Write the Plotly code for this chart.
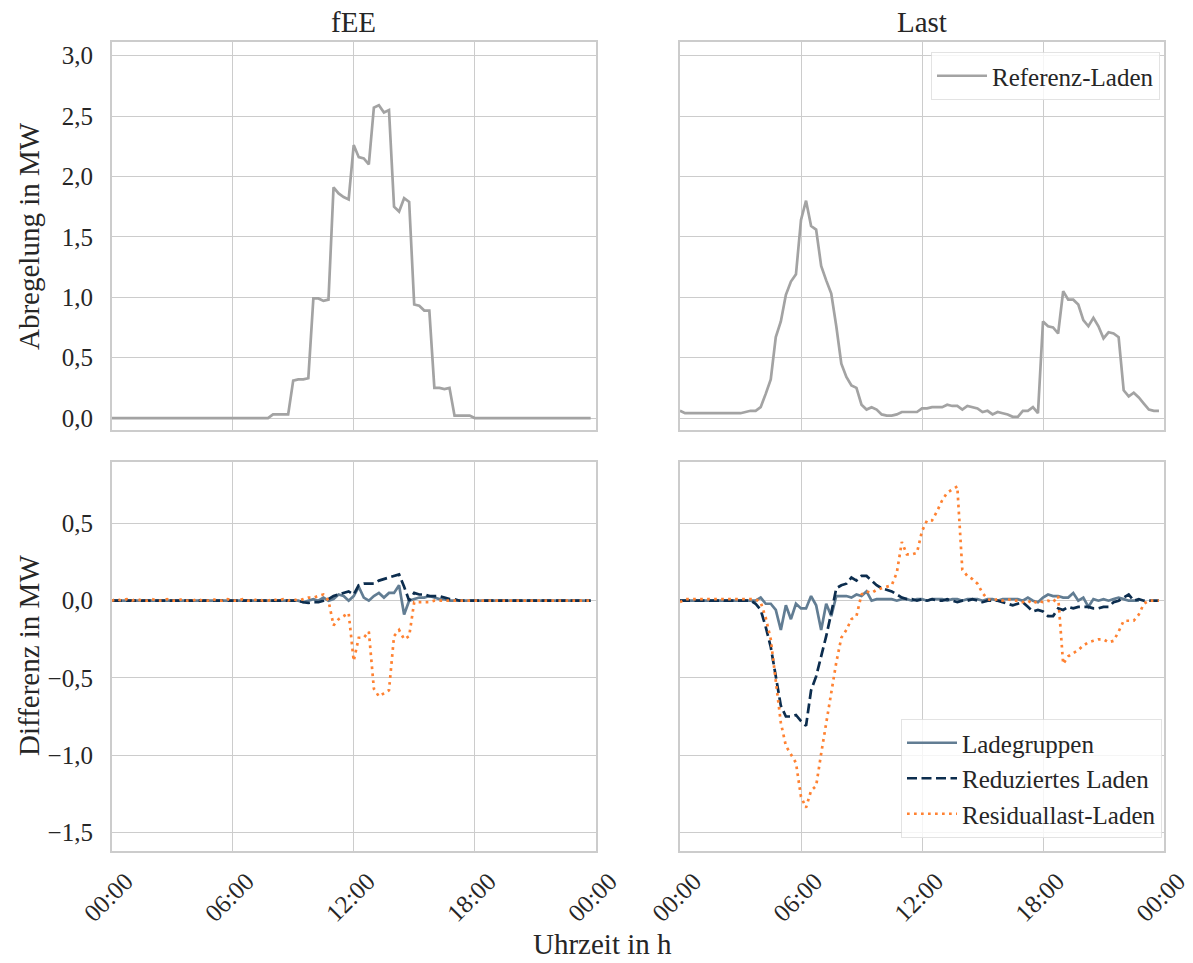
import pandas as pd
import plotly.graph_objects as go
from plotly.subplots import make_subplots

W, H = 1193, 963

# 15-minute time steps over one day
times = pd.date_range("2022-06-01 00:00", periods=96, freq="15min")
day_end = times[0] + pd.Timedelta(hours=24)

# Abregelung (curtailment) of the reference charging strategy, MW
ref_fee = ([0.0] * 32
           + [0.03, 0.03, 0.03, 0.03, 0.31, 0.32, 0.32, 0.33,
              0.99, 0.99, 0.97, 0.98, 1.91, 1.86, 1.83, 1.81,
              2.26, 2.16, 2.15, 2.10, 2.57, 2.59, 2.53, 2.55,
              1.75, 1.71, 1.82, 1.79, 0.94, 0.93, 0.89, 0.89,
              0.25, 0.25, 0.24, 0.25, 0.02, 0.02, 0.02, 0.02]
           + [0.0] * 24)

ref_last = [0.06, 0.04, 0.04, 0.04, 0.04, 0.04, 0.04, 0.04, 0.04, 0.04, 0.04, 0.04,
            0.04, 0.05, 0.06, 0.06, 0.09, 0.20, 0.32, 0.67, 0.80, 1.02, 1.13, 1.19,
            1.64, 1.80, 1.59, 1.56, 1.26, 1.14, 1.03, 0.76, 0.45, 0.34, 0.27, 0.25,
            0.11, 0.07, 0.09, 0.07, 0.03, 0.02, 0.02, 0.03, 0.05, 0.05, 0.05, 0.05,
            0.08, 0.08, 0.09, 0.09, 0.09, 0.11, 0.10, 0.10, 0.07, 0.10, 0.09, 0.08,
            0.05, 0.06, 0.03, 0.05, 0.04, 0.03, 0.01, 0.01, 0.06, 0.06, 0.09, 0.04,
            0.80, 0.76, 0.75, 0.70, 1.05, 0.98, 0.98, 0.94, 0.81, 0.76, 0.83, 0.76,
            0.66, 0.71, 0.70, 0.67, 0.23, 0.18, 0.21, 0.17, 0.12, 0.07, 0.06, 0.06]

# Differences to the reference, MW -- scenario fEE
lade_fee = ([0.0] * 38
            + [-0.01, 0.0, 0.01, 0.0, 0.02, 0.0, 0.01, 0.04, 0.03, 0.0,
               0.03, 0.09, 0.02, 0.0, 0.03, 0.05, 0.02, 0.05, 0.05, 0.10,
               -0.09, 0.0, 0.01, 0.02, 0.02, 0.03, 0.02, 0.01, 0.01, 0.0]
            + [0.0] * 28)

red_fee = ([0.0] * 38
           + [-0.01, -0.015, -0.01, -0.01, 0.0, 0.01, 0.03, 0.04, 0.05, 0.06,
              0.04, 0.10, 0.11, 0.11, 0.11, 0.13, 0.14, 0.15, 0.16, 0.17,
              0.09, 0.0, 0.05, 0.04, 0.04, 0.03, 0.03, 0.03, 0.02, 0.01,
              0.01, 0.0]
           + [0.0] * 26)

res_fee = ([0.0, 0.01, 0.0, 0.01, 0.0, 0.01, 0.0, 0.0, 0.01, 0.0, 0.0, 0.01,
            0.0, 0.0, 0.01, 0.0, 0.0, 0.01, 0.0, 0.0, 0.01, 0.0, 0.0, 0.01,
            0.0, 0.0, 0.01, 0.0, 0.0, 0.01, 0.0, 0.0, 0.01, 0.0, 0.01, 0.0,
            0.01, 0.0]
           + [0.01, 0.02, 0.02, 0.03, 0.04, 0.0, -0.16, -0.12, -0.10, -0.08,
              -0.39, -0.24, -0.24, -0.20, -0.57, -0.62, -0.60, -0.58, -0.23, -0.19,
              -0.25, -0.23, -0.01, -0.01, -0.01, -0.01]
           + [0.0] * 32)

# Differences to the reference, MW -- scenario Last
lade_last = ([0.0] * 16
             + [0.02, -0.02, -0.02, -0.06, -0.19, -0.03, -0.12, -0.02, -0.05, -0.05,
                0.03, -0.03, -0.19, -0.02, -0.10, 0.03, 0.03, 0.03, 0.02, 0.04,
                0.03, 0.06, 0.0, 0.01, 0.01, 0.01, 0.01, 0.0, 0.01, 0.01,
                0.0, 0.01, 0.01, 0.0, 0.01, 0.01, 0.01, 0.0, 0.01, 0.01,
                0.0, 0.01, 0.01, 0.01, 0.0, 0.01, 0.01, 0.0, 0.01, 0.01,
                0.01, 0.01, 0.0, 0.02, 0.0, -0.01, 0.02, 0.04, 0.03, 0.03,
                0.02, 0.02, 0.05, 0.0, 0.02, -0.04, 0.01, 0.0, 0.01, 0.0,
                0.01, 0.02, 0.01, 0.0, 0.0, 0.0])

red_last = ([0.0] * 15
            + [-0.02, -0.06, -0.17, -0.30, -0.49, -0.68, -0.75, -0.75, -0.74, -0.78,
               -0.81, -0.58, -0.49, -0.36, -0.23, -0.08, 0.08, 0.10, 0.11, 0.15,
               0.13, 0.16, 0.16, 0.13, 0.10, 0.08, 0.07, 0.06, 0.04, 0.02,
               0.01, 0.01, 0.0, 0.01, 0.0, 0.01, 0.0, 0.0, 0.01, 0.0,
               -0.01, 0.0, 0.0, 0.01, 0.0, -0.01, 0.0, 0.0, 0.0, -0.01,
               -0.02, -0.03, -0.02, -0.01, -0.04, -0.07, -0.06, -0.07, -0.10, -0.10,
               -0.05, -0.06, -0.04, -0.05, -0.04, -0.04, -0.04, -0.05, -0.05, -0.04,
               -0.04, -0.01, 0.0, 0.02, 0.04, 0.0, 0.01, 0.0, 0.0, 0.0, 0.0])

res_last = ([-0.01] + [0.01] * 15
            + [-0.01, -0.11, -0.25, -0.53, -0.79, -0.94, -1.00, -1.05, -1.27, -1.34,
               -1.23, -1.20, -0.99, -0.79, -0.62, -0.40, -0.24, -0.19, -0.12, -0.10,
               0.04, 0.06, 0.05, 0.07, 0.08, 0.09, 0.10, 0.18, 0.38, 0.30,
               0.30, 0.31, 0.45, 0.52, 0.52, 0.58, 0.65, 0.70, 0.72, 0.74,
               0.20, 0.16, 0.14, 0.11, 0.05, 0.01, 0.0, 0.01, 0.0, 0.01,
               0.0, 0.0, -0.01, 0.0, -0.02, 0.0, -0.01, 0.0, -0.01, 0.03,
               -0.41, -0.36, -0.34, -0.32, -0.29, -0.27, -0.26, -0.25, -0.25, -0.27,
               -0.26, -0.20, -0.13, -0.13, -0.13, -0.09, -0.02, 0.0, 0.0, 0.0])

panel_titles = ["fEE", "Last"]
ref_name = "Referenz-Laden"
diff_names = ["Ladegruppen", "Reduziertes Laden", "Residuallast-Laden"]
xtick_labels = ["00:00", "06:00", "12:00", "18:00", "00:00"]
ytick_top_vals = [0.0, 0.5, 1.0, 1.5, 2.0, 2.5, 3.0]
ytick_top_text = ["0,0", "0,5", "1,0", "1,5", "2,0", "2,5", "3,0"]
ytick_bot_vals = [-1.5, -1.0, -0.5, 0.0, 0.5]
ytick_bot_text = ["\u22121,5", "\u22121,0", "\u22120,5", "0,0", "0,5"]

FONT = "Liberation Serif"
TXT = "#262626"
GRID = "#cccccc"
C_REF = "#a3a3a3"
C_LADE = "#627d93"
C_RED = "#0c2d4e"
C_RES = "#ff8232"
LW = 2.7

fig = make_subplots(rows=2, cols=2)


def px_x(a, b):
    return [a / W, b / W]


def px_y(top, bottom):
    return [1 - bottom / H, 1 - top / H]


# Top row: reference curtailment
for col, ref in ((1, ref_fee), (2, ref_last)):
    fig.add_trace(go.Scatter(x=times, y=ref, mode="lines", name=ref_name,
                             line=dict(color=C_REF, width=LW),
                             showlegend=(col == 2), legend="legend"),
                  row=1, col=col)

# Bottom row: differences of the charging strategies
styles = [dict(color=C_LADE, width=LW),
          dict(color=C_RED, width=LW, dash="10px,4.5px"),
          dict(color=C_RES, width=LW, dash="2.7px,4.3px")]
for col, series in ((1, (lade_fee, red_fee, res_fee)), (2, (lade_last, red_last, res_last))):
    for name, vals, st in zip(diff_names, series, styles):
        fig.add_trace(go.Scatter(x=times, y=vals, mode="lines", name=name,
                                 line=st, showlegend=(col == 2), legend="legend2"),
                      row=2, col=col)

x_dom = {1: px_x(111.7, 595.7), 2: px_x(680, 1164)}
y_dom = {1: px_y(42.3, 430), 2: px_y(462.3, 851)}

axis_common = dict(showgrid=True, gridcolor=GRID, gridwidth=1.3,
                   showline=True, linecolor=GRID, linewidth=1.5, mirror=True,
                   zeroline=False, ticks="", automargin=False,
                   ticklabeloverflow="allow",
                   tickfont=dict(family=FONT, size=25, color=TXT))

tick_dates = pd.date_range(times[0], periods=5, freq="6h")
for r in (1, 2):
    for c in (1, 2):
        fig.update_xaxes(row=r, col=c, domain=x_dom[c], range=[times[0], day_end],
                         tickvals=tick_dates, ticktext=xtick_labels,
                         showticklabels=(r == 2), tickangle=-45,
                         ticklabelshift=14, ticklabelstandoff=4, **axis_common)
        if r == 1:
            fig.update_yaxes(row=r, col=c, domain=y_dom[r], range=[-0.099, 3.111],
                             tickvals=ytick_top_vals, ticktext=ytick_top_text,
                             showticklabels=(c == 1), ticklabelstandoff=12,
                             **axis_common)
        else:
            fig.update_yaxes(row=r, col=c, domain=y_dom[r], range=[-1.621, 0.896],
                             tickvals=ytick_bot_vals, ticktext=ytick_bot_text,
                             showticklabels=(c == 1), ticklabelstandoff=12,
                             **axis_common)

annotations = []
for c, t in zip((1, 2), panel_titles):
    xc = (x_dom[c][0] + x_dom[c][1]) / 2
    annotations.append(dict(text=t, x=xc, y=1 - 22 / H, xref="paper", yref="paper",
                            showarrow=False, font=dict(family=FONT, size=29, color=TXT),
                            xanchor="center", yanchor="middle"))
annotations.append(dict(text="Abregelung in MW", x=29 / W, y=1 - 236 / H,
                        xref="paper", yref="paper", textangle=-90, showarrow=False,
                        font=dict(family=FONT, size=29, color=TXT),
                        xanchor="center", yanchor="middle"))
annotations.append(dict(text="Differenz in MW", x=29 / W, y=1 - 656 / H,
                        xref="paper", yref="paper", textangle=-90, showarrow=False,
                        font=dict(family=FONT, size=29, color=TXT),
                        xanchor="center", yanchor="middle"))
annotations.append(dict(text="Uhrzeit in h", x=603 / W, y=1 - 944 / H,
                        xref="paper", yref="paper", showarrow=False,
                        font=dict(family=FONT, size=29, color=TXT),
                        xanchor="center", yanchor="middle"))

legend_common = dict(font=dict(family=FONT, size=25, color=TXT),
                     bgcolor="rgba(255,255,255,0.8)", bordercolor="rgba(220,220,220,0.8)",
                     borderwidth=1, itemwidth=50, xref="paper", yref="paper",
                     xanchor="right")

fig.update_layout(
    width=W, height=H,
    margin=dict(l=0, r=0, t=0, b=0, autoexpand=False),
    paper_bgcolor="white", plot_bgcolor="white",
    font=dict(family=FONT, color=TXT),
    annotations=annotations,
    legend=dict(x=1160 / W, y=1 - 52 / H, yanchor="top", **legend_common),
    legend2=dict(x=1162 / W, y=1 - 838 / H, yanchor="bottom", **legend_common),
)

fig.write_html("out.html")
